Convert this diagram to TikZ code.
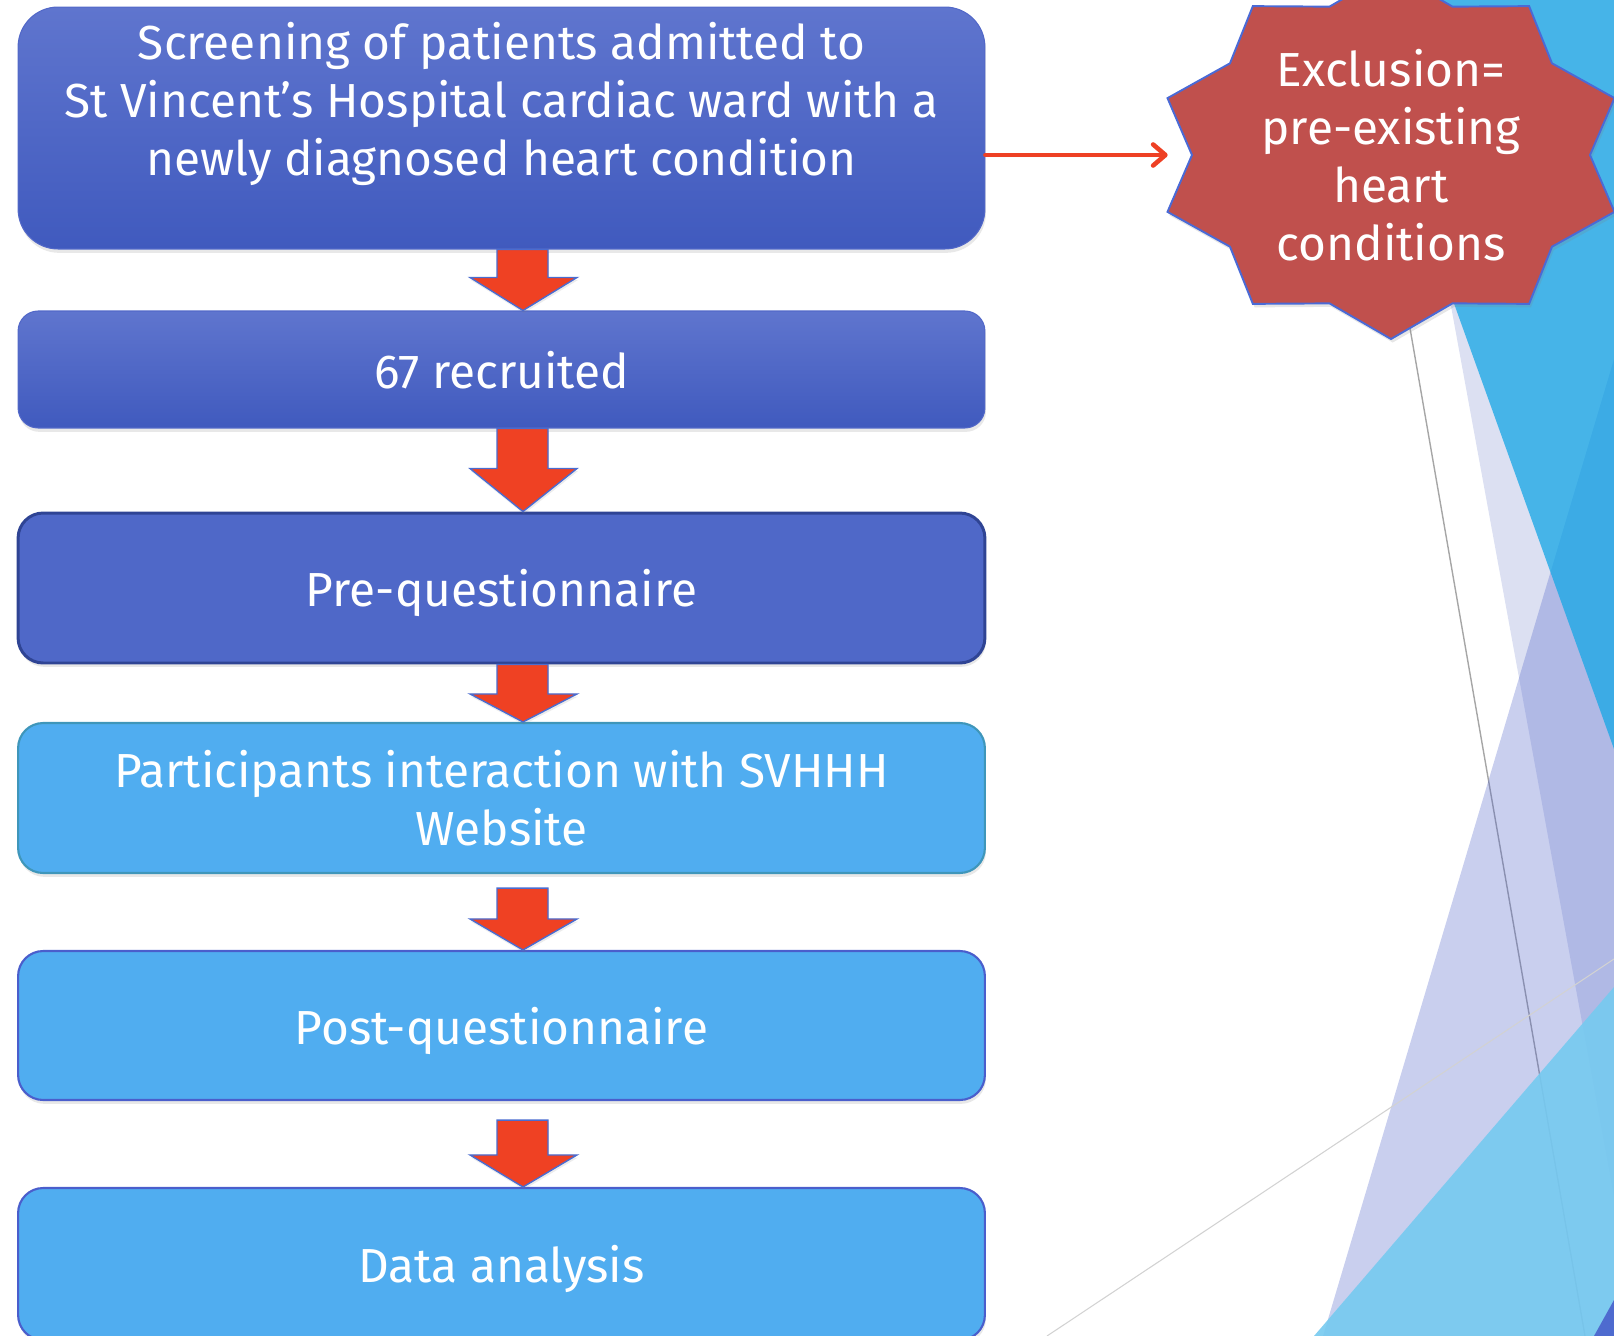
\documentclass[tikz,border=0pt]{standalone}
\usepackage{fontspec}
\setmainfont{Fira Sans}
\usetikzlibrary{calc,shadows,arrows.meta}

\definecolor{navytop}{RGB}{95,117,206}
\definecolor{navybot}{RGB}{64,90,190}
\definecolor{navyline}{RGB}{82,104,200}
\definecolor{preblue}{RGB}{79,104,200}
\definecolor{predark}{RGB}{47,68,148}
\definecolor{sky}{RGB}{80,173,240}
\definecolor{skyline}{RGB}{74,94,204}
\definecolor{tealline}{RGB}{63,150,186}
\definecolor{arrowred}{RGB}{239,65,35}
\definecolor{arrowedge}{RGB}{74,108,208}
\definecolor{exclred}{RGB}{238,64,36}
\definecolor{starred}{RGB}{192,80,77}
\definecolor{staredge}{RGB}{74,106,214}
\definecolor{facetblue}{RGB}{26,168,230}
\definecolor{facetlav}{RGB}{220,224,242}
\definecolor{facetviolet}{RGB}{75,95,200}
\definecolor{facetsky}{RGB}{118,202,240}
\definecolor{facetdeep}{RGB}{78,107,207}

\newcommand{\boxfont}{\fontsize{27.2}{33}\selectfont}
% fat red arrow: from box, to box, gap under the first box, head length
\newcommand{\flowarrow}[4]{%
  \draw[redblock] ($(#1.south)+(-4.5,#3)$) -- ($(#2.north)+(-4.5,-#4)$)
    -- ($(#2.north)+(-31.5,-#4)$) -- ($(#2.north)+(21.5,0)$)
    -- ($(#2.north)+(75.5,-#4)$) -- ($(#2.north)+(46.5,-#4)$)
    -- ($(#1.south)+(46.5,#3)$) -- cycle;}

\begin{document}
\begin{tikzpicture}[x=0.02cm, y=-0.02cm,
    flowbox/.style={rounded corners=0.5cm, minimum width=19.34cm, inner sep=0pt,
        text=white, align=center, font=\boxfont,
        drop shadow={opacity=0.18, shadow xshift=0.6pt, shadow yshift=-2.2pt}},
    oneline/.style={text height=23pt, text depth=1.4pt},
    navybox/.style={flowbox, top color=navytop, bottom color=navybot, draw=navyline, line width=0.6pt},
    prebox/.style={flowbox, fill=preblue, draw=predark, line width=1.7pt},
    skybox/.style={flowbox, fill=sky, draw=#1, line width=1.2pt},
    skybox/.default=skyline,
    redblock/.style={fill=arrowred, draw=arrowedge, line width=0.8pt,
        drop shadow={opacity=0.15, shadow xshift=0.5pt, shadow yshift=-1.5pt}},
    exclline/.style={draw=exclred, line width=2.6pt, line cap=round,
        -{Straight Barb[length=7pt, width=12pt, round]},
        drop shadow={opacity=0.12, shadow xshift=0.5pt, shadow yshift=-1.5pt}},
    exclstar/.style={fill=starred, draw=staredge, line width=1.1pt,
        drop shadow={opacity=0.2, shadow xshift=1pt, shadow yshift=-2pt}}]

  \useasboundingbox (0,0) rectangle (1614,1336);
  \clip (0,0) rectangle (1614,1336);

% background facets
  \fill[facetlav] (1395,0) -- (1614,0) -- (1614,1197) -- cycle;
  \draw[gray!70, line width=0.8pt] (1353,0) -- (1585,1336);
  \fill[facetviolet, opacity=0.3] (1614,359) -- (1323,1336) -- (1614,1336) -- cycle;
  \fill[facetblue, opacity=0.77] (1345,0) -- (1614,0) -- (1614,749) -- cycle;
  \fill[facetsky, opacity=0.9] (1614,987) -- (1314,1336) -- (1614,1336) -- cycle;
  \fill[facetdeep] (1594,1336) -- (1614,1300) -- (1614,1336) -- cycle;
  \draw[gray!35, line width=0.6pt] (1047,1336) -- (1614,959);

% flow boxes
  \node[navybox, rounded corners=0.8cm, minimum height=4.84cm] (screen) at (501.5,128)
    {Screening of patients admitted to\\St Vincent’s Hospital cardiac ward with a\\newly diagnosed heart condition\\~};
  \node[navybox, oneline, rounded corners=0.4cm, minimum height=2.34cm] (recruit) at (501.5,369.5) {67 recruited};
  \node[prebox, oneline, minimum height=3cm] (preq) at (501.5,588) {Pre-questionnaire};
  \node[skybox=tealline, minimum height=3cm] (website) at (501.5,798)
    {Participants interaction with SVHHH\\Website};
  \node[skybox, oneline, minimum height=2.98cm] (postq) at (501.5,1025.5) {Post-questionnaire};
  \node[skybox, oneline, minimum height=3.04cm] (analysis) at (501.5,1264) {Data analysis};

% arrows
  \flowarrow{screen}{recruit}{0}{33}
  \flowarrow{recruit}{preq}{0}{43}
  \flowarrow{preq}{website}{0}{28}
  \flowarrow{website}{postq}{14}{31}
  \flowarrow{postq}{analysis}{19}{32}

% exclusion star
  \coordinate (exclc) at (1391,155);
  \draw[exclstar] ($(exclc)+(90:235 and 184)$)
    \foreach \a in {0,36,...,324} {-- ($(exclc)+(108+\a:199 and 156)$) -- ($(exclc)+(126+\a:235 and 184)$)} -- cycle;
  \node[text=white, align=center, font=\boxfont, minimum width=8.92cm, minimum height=7.36cm, inner sep=0pt]
    (excl) at (exclc) {Exclusion=\\pre-existing\\heart\\conditions};

  \draw[exclline] (screen.east |- excl.west) -- (excl.west);

\end{tikzpicture}
\end{document}
